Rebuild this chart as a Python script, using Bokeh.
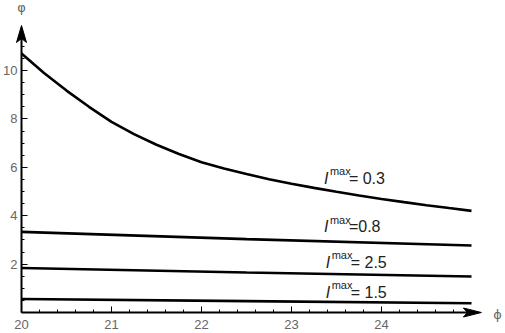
import numpy as np
from bokeh.plotting import figure
from bokeh.models import Range1d, FixedTicker, ColumnDataSource
from bokeh.core.properties import value
from bokeh.embed import file_html
from bokeh.resources import INLINE

# ---- data ----
phi_curve = [20.0, 20.25, 20.5, 20.75, 21.0, 21.25, 21.5, 21.75, 22.0, 22.25, 22.5,
             22.75, 23.0, 23.25, 23.5, 23.75, 24.0, 24.25, 24.5, 24.75, 25.0]
varphi_03 = [10.70, 9.90, 9.17, 8.50, 7.88, 7.37, 6.93, 6.55, 6.21, 5.95, 5.72,
             5.51, 5.32, 5.15, 4.99, 4.835, 4.69, 4.56, 4.435, 4.315, 4.20]
phi_flat = [20.0, 22.5, 25.0]
varphi_08 = [3.33, 3.03, 2.77]
varphi_25 = [1.84, 1.65, 1.49]
varphi_15 = [0.56, 0.47, 0.38]

x_ticks = [20, 21, 22, 23, 24]
y_ticks = [2, 4, 6, 8, 10]

label_values = ["= 0.3", "=0.8", "= 2.5", "= 1.5"]
label_x = [23.36, 23.36, 23.38, 23.38]
label_y = [5.54, 3.55, 2.07, 0.83]

x_tip = 25.11
y_tip = 11.86

# ---- figure: the frame fills the whole page, axes are placed at phi=20 / varphi=0 ----
W, H = 505, 333
px_x, px_y = 90.0, 24.2          # pixels per unit
x0_px, y0_px = 21, 312           # where (20, 0) sits on the page
x_range = Range1d(20 - x0_px / px_x, 20 + (W - x0_px) / px_x)
y_range = Range1d(-(H - y0_px) / px_y, y0_px / px_y)

p = figure(width=W, height=H, x_range=x_range, y_range=y_range,
           output_backend="svg", toolbar_location=None, min_border=0,
           min_border_left=0, min_border_right=0, min_border_top=0, min_border_bottom=0)
p.grid.visible = False
p.outline_line_color = None
p.background_fill_color = "white"
p.border_fill_color = "white"

p.xaxis.fixed_location = 0
p.yaxis.fixed_location = 20

for ax in (p.xaxis[0], p.yaxis[0]):
    ax.axis_line_width = 2
    ax.axis_line_color = "black"
    ax.major_tick_in = 6
    ax.major_tick_out = 0
    ax.minor_tick_in = 3
    ax.minor_tick_out = 0
    ax.major_tick_line_color = "black"
    ax.minor_tick_line_color = "black"
    ax.major_label_text_font = "Liberation Sans"
    ax.major_label_text_font_size = "13px"
    ax.major_label_text_color = "#666666"
p.xaxis.major_label_standoff = 7
p.yaxis.major_label_standoff = 4

p.xaxis.ticker = FixedTicker(ticks=x_ticks, minor_ticks=list(np.round(np.arange(20, 24.81, 0.2), 2)))
p.yaxis.ticker = FixedTicker(ticks=y_ticks, minor_ticks=list(np.arange(0.5, 11.01, 0.5)))

x_len, x_hw, x_notch = 18 / px_x, 4.5 / px_y, 4 / px_x
y_len, y_hw, y_notch = 17 / px_y, 5 / px_x, 4 / px_y
p.xaxis.bounds = (20, x_tip - x_len + x_notch)
p.yaxis.bounds = (0, y_tip - y_len + y_notch)

# arrowheads
p.patch([x_tip, x_tip - x_len, x_tip - x_len + x_notch, x_tip - x_len],
        [0, x_hw, 0, -x_hw], fill_color="black", line_color="black", line_width=1)
p.patch([20, 20 + y_hw, 20, 20 - y_hw],
        [y_tip, y_tip - y_len, y_tip - y_len + y_notch, y_tip - y_len],
        fill_color="black", line_color="black", line_width=1)

# curves
lw = 2.6
p.line(phi_curve, varphi_03, line_width=lw, line_color="black")
p.line(phi_flat, varphi_08, line_width=lw, line_color="black")
p.line(phi_flat, varphi_25, line_width=lw, line_color="black")
p.line(phi_flat, varphi_15, line_width=lw, line_color="black")

# curve labels
src = ColumnDataSource(dict(x=label_x, y=label_y, i=["I"] * 4, sup=["max"] * 4, val=label_values))
p.text(x="x", y="y", text="i", source=src, text_font=value("Liberation Sans"),
       text_font_style="italic", text_font_size="16px", text_color="#222222",
       text_baseline="alphabetic", text_align="left")
p.text(x="x", y="y", text="sup", source=src, text_font=value("Liberation Sans"),
       text_font_size="11px", text_color="#222222", x_offset=6, y_offset=-7,
       text_baseline="alphabetic", text_align="left")
p.text(x="x", y="y", text="val", source=src, text_font=value("Liberation Sans"),
       text_font_size="16px", text_color="#222222", x_offset=25,
       text_baseline="alphabetic", text_align="left")

# axis names
p.text(x=[20], y=[y_tip + 0.74], text=["φ"], text_align="center", text_baseline="middle",
       text_font=value("DejaVu Sans"), text_font_size="13px", text_color="#666666")
p.text(x=[25.29], y=[-0.08], text=["ϕ"], text_align="center", text_baseline="middle",
       text_font=value("DejaVu Sans"), text_font_size="13px", text_color="#666666")

open("out.html", "w").write(file_html(p, INLINE))
